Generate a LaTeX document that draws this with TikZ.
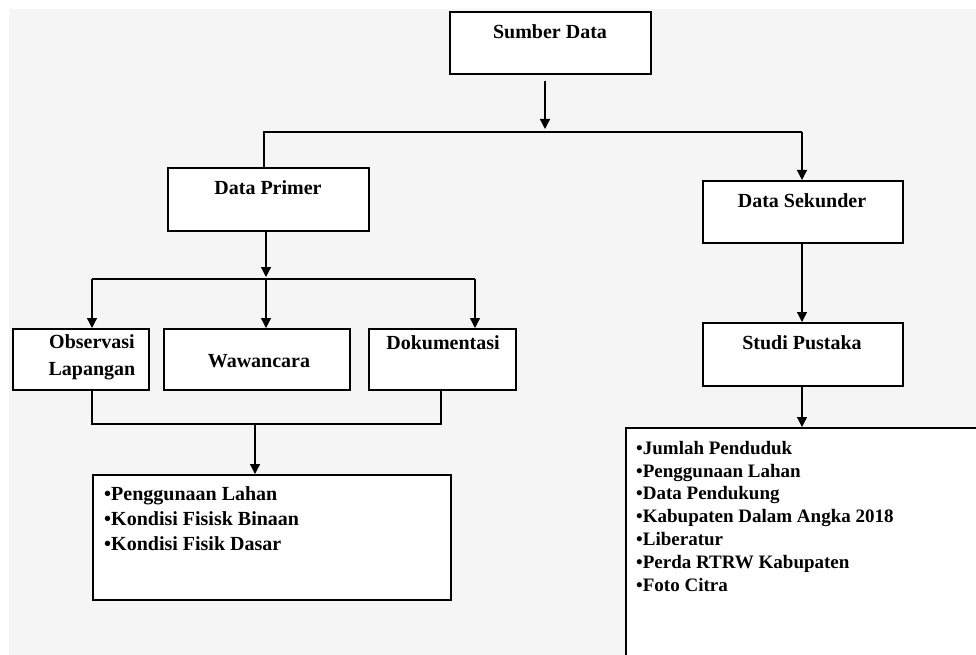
\documentclass[tikz,border=0pt]{standalone}
\usepackage{fontspec}
\setmainfont{Liberation Serif}
\usetikzlibrary{arrows.meta}
\definecolor{bgray}{HTML}{F5F5F5}
\tikzset{
  boxnode/.style={draw=black, line width=1.6pt, fill=white, rectangle, inner sep=0pt},
  title/.style={font=\bfseries\fontsize{20}{27}\selectfont, inner sep=0pt, align=center},
  listtext/.style={inner sep=0pt, align=left, anchor=north west},
  conn/.style={line width=1.3pt, draw=black},
  arr/.style={conn, -{Triangle[width=10pt,length=10pt]}}
}
\newcommand{\boxat}[3]{% name, x1 y1, x2 y2 handled by caller
}
\begin{document}
\begin{tikzpicture}[x=1pt,y=-1pt]
\useasboundingbox (0,0) rectangle (976,655);
\clip (0,0) rectangle (976,655);
\fill[white] (0,0) rectangle (976,655);
\fill[bgray] (9,9) rectangle (976,655);

% boxes
\node[boxnode, minimum width=201pt, minimum height=62pt, anchor=north west] (sd) at (449,11) {};
\node[boxnode, minimum width=201pt, minimum height=63pt, anchor=north west] (dp) at (167,167) {};
\node[boxnode, minimum width=200pt, minimum height=62pt, anchor=north west] (ds) at (702,180) {};
\node[boxnode, minimum width=136pt, minimum height=61pt, anchor=north west] (ob) at (12,328) {};
\node[boxnode, minimum width=186pt, minimum height=61pt, anchor=north west] (ww) at (163,328) {};
\node[boxnode, minimum width=147pt, minimum height=61pt, anchor=north west] (dk) at (368,328) {};
\node[boxnode, minimum width=200pt, minimum height=63pt, anchor=north west] (sp) at (702,322) {};
\node[boxnode, minimum width=358pt, minimum height=125pt, anchor=north west] (lb) at (92,474) {};
\node[boxnode, minimum width=360pt, minimum height=240pt, anchor=north west] (rb) at (625,427) {};

% titles
\node[title] (sdt) at (550,32) {Sumber Data};
\node[title] (dpt) at (268,188) {Data Primer};
\node[title] (dst) at (802,201) {Data Sekunder};
\node[title] (obt) at (92,357) {Observasi\\Lapangan};
\node[title] (wwt) at (259,361) {Wawancara};
\node[title] (dkt) at (443,343) {Dokumentasi};
\node[title] (spt) at (802,343) {Studi Pustaka};

% lists
\node[listtext, font=\bfseries\fontsize{20}{25}\selectfont] (lbt) at (104,486)
  {•Penggunaan Lahan\\•Kondisi Fisisk Binaan\\•Kondisi Fisik Dasar};
\node[listtext, font=\bfseries\fontsize{19}{22.8}\selectfont] (rbt) at (636,441)
  {•Jumlah Penduduk\\•Penggunaan Lahan\\•Data Pendukung\\•Kabupaten Dalam Angka 2018\\•Liberatur\\•Perda RTRW Kabupaten\\•Foto Citra};

% junction coordinates
\coordinate (j1) at (545,132);
\coordinate (j1l) at (264,132);
\coordinate (j1r) at (802,132);
\coordinate (j2) at (266,279);
\coordinate (j2l) at (92,279);
\coordinate (j2r) at (475,279);
\coordinate (j3l) at (92,424);
\coordinate (j3r) at (441,424);
\coordinate (j3) at (255,424);

% connectors
\draw[arr, shorten <=6pt, shorten >=3pt] (sd.south -| j1) -- (j1);
\draw[conn] (dp.north -| j1l) -- (j1l) -- (j1r);
\draw[arr] (j1r) -- (ds.north -| j1r);
\draw[arr, shorten >=2pt] (dp.south -| j2) -- (j2);
\draw[conn] (j2l) -- (j2r);
\draw[arr] (j2l) -- (ob.north -| j2l);
\draw[arr] (j2) -- (ww.north -| j2);
\draw[arr] (j2r) -- (dk.north -| j2r);
\draw[conn] (ob.south -| j3l) -- (j3l) -- (j3r) -- (dk.south -| j3r);
\draw[arr] (j3) -- (lb.north -| j3);
\draw[arr] (ds.south -| j1r) -- (sp.north -| j1r);
\draw[arr] (sp.south -| j1r) -- (rb.north -| j1r);
\end{tikzpicture}
\end{document}
